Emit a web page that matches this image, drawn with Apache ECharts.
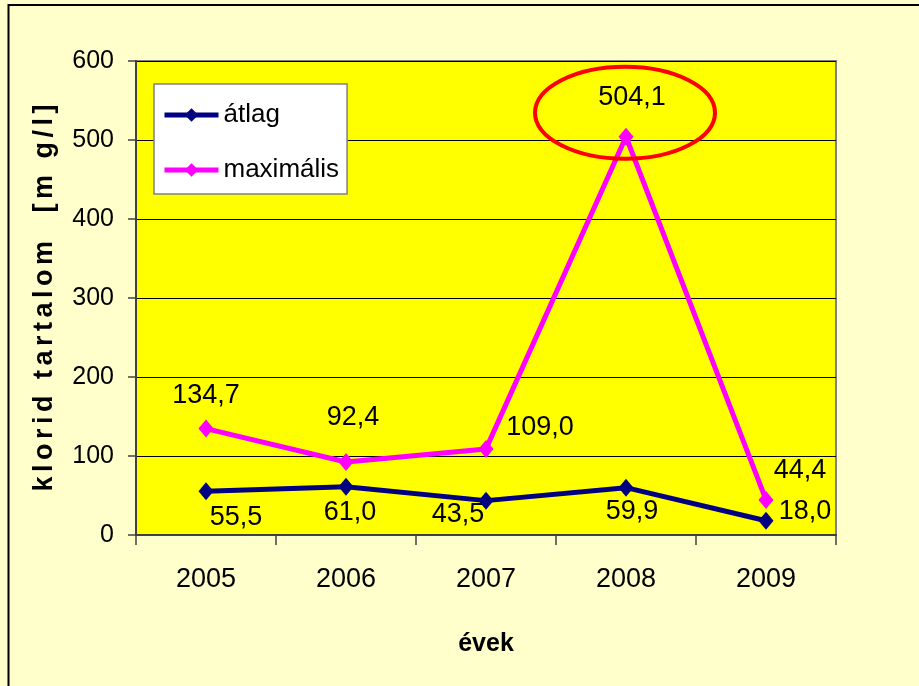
<!DOCTYPE html>
<html>
<head>
    <meta charset="UTF-8">
    <title>klorid tartalom</title>
    <script src="https://cdn.jsdelivr.net/npm/echarts@6/dist/echarts.min.js"></script>
    <style>
        html, body { margin: 0; padding: 0; background: #FFFFCC; }
        #main { width: 919px; height: 686px; }
    </style>
</head>
<body>
<div id="main"></div>
<script type="text/javascript">
    // adatok
    var years = ['2005', '2006', '2007', '2008', '2009'];
    var atlag = [55.5, 61.0, 43.5, 59.9, 18.0];
    var maximalis = [134.7, 92.4, 109.0, 504.1, 44.4];
    var yMin = 0, yMax = 600, yStep = 100;

    // cimke eltolasok (pixel, a ponthoz kepest)
    var offAtlag = [[30, 26], [4, 26], [-28, 14], [6, 24], [39, -9]];
    var offMax = [[0, -33], [7, -44], [54, -21], [6, -39], [34, -29]];

    var font = "'Liberation Sans', Arial, sans-serif";

    function fmt(v) {
        return v.toFixed(1).replace('.', ',');
    }
    function spaced(s) {
        return s.split('').join('\u200A\u200A');
    }
    function points(vals, offs) {
        return vals.map(function (v, i) {
            return {
                value: v,
                label: { offset: offs[i] }
            };
        });
    }

    var myChart = echarts.init(document.getElementById('main'));
    myChart.setOption({
        backgroundColor: '#FFFFCC',
        animation: false,
        grid: {
            left: 136, top: 61, width: 700, height: 474,
            show: true,
            backgroundColor: '#FFFF00',
            borderColor: '#808080',
            borderWidth: 2
        },
        legend: {
            left: 154, top: 84,
            orient: 'vertical',
            backgroundColor: '#FFFFFF',
            borderColor: '#808080',
            borderWidth: 1.5,
            borderRadius: 0,
            padding: [18, 8, 11, 8],
            itemGap: 29,
            itemWidth: 54,
            itemHeight: 17,
            lineStyle: { width: 5 },
            textStyle: { fontFamily: font, fontSize: 26, color: '#000' },
            data: ['átlag', 'maximális']
        },
        xAxis: {
            type: 'category',
            data: years,
            boundaryGap: true,
            name: 'évek',
            nameLocation: 'middle',
            nameGap: 97,
            nameTextStyle: { fontFamily: font, fontSize: 25, fontWeight: 'bold', color: '#000' },
            axisLine: { lineStyle: { color: '#404040', width: 2 } },
            axisTick: { show: true, length: 10, lineStyle: { color: '#404040', width: 1.5 } },
            axisLabel: { margin: 31, fontFamily: font, fontSize: 27, color: '#000' },
            splitLine: { show: false }
        },
        yAxis: {
            type: 'value',
            min: yMin, max: yMax, interval: yStep,
            name: spaced('klorid tartalom  [m g/l]'),
            nameLocation: 'middle',
            nameGap: 78,
            nameTextStyle: { fontFamily: font, fontSize: 27, fontWeight: 'bold', color: '#000' },
            axisLine: { show: true, lineStyle: { color: '#404040', width: 2 } },
            axisTick: { show: true, length: 8, lineStyle: { color: '#404040', width: 1.5 } },
            axisLabel: { margin: 22, fontFamily: font, fontSize: 25, color: '#000' },
            splitLine: { show: true, lineStyle: { color: '#000', width: 1 } }
        },
        series: [
            {
                name: 'átlag',
                type: 'line',
                data: points(atlag, offAtlag),
                symbol: 'diamond',
                symbolSize: [15, 18],
                itemStyle: { color: '#000080' },
                lineStyle: { color: '#000080', width: 5 },
                label: {
                    show: true,
                    position: 'inside',
                    fontFamily: font, fontSize: 27, color: '#000',
                    formatter: function (p) { return fmt(p.value); }
                },
                z: 3
            },
            {
                name: 'maximális',
                type: 'line',
                data: points(maximalis, offMax),
                symbol: 'diamond',
                symbolSize: [15, 18],
                itemStyle: { color: '#FF00FF' },
                lineStyle: { color: '#FF00FF', width: 5 },
                label: {
                    show: true,
                    position: 'inside',
                    fontFamily: font, fontSize: 27, color: '#000',
                    formatter: function (p) { return fmt(p.value); }
                },
                z: 4
            }
        ]
    });

    // piros ellipszis a 2008-as maximum korul + kulso keret
    var peak = myChart.convertToPixel({ seriesIndex: 1 }, [3, maximalis[3]]);
    myChart.setOption({
        graphic: [
            {
                type: 'rect',
                shape: { x: 8.5, y: 5, width: 1000, height: 1000 },
                style: { fill: null, stroke: '#000', lineWidth: 2 },
                silent: true,
                z: 0
            },
            {
                type: 'ellipse',
                shape: { cx: peak[0] - 1, cy: peak[1] - 24, rx: 90, ry: 46 },
                style: { fill: null, stroke: '#FF0000', lineWidth: 4 },
                silent: true,
                z: 10
            }
        ]
    });
</script>
</body>
</html>
